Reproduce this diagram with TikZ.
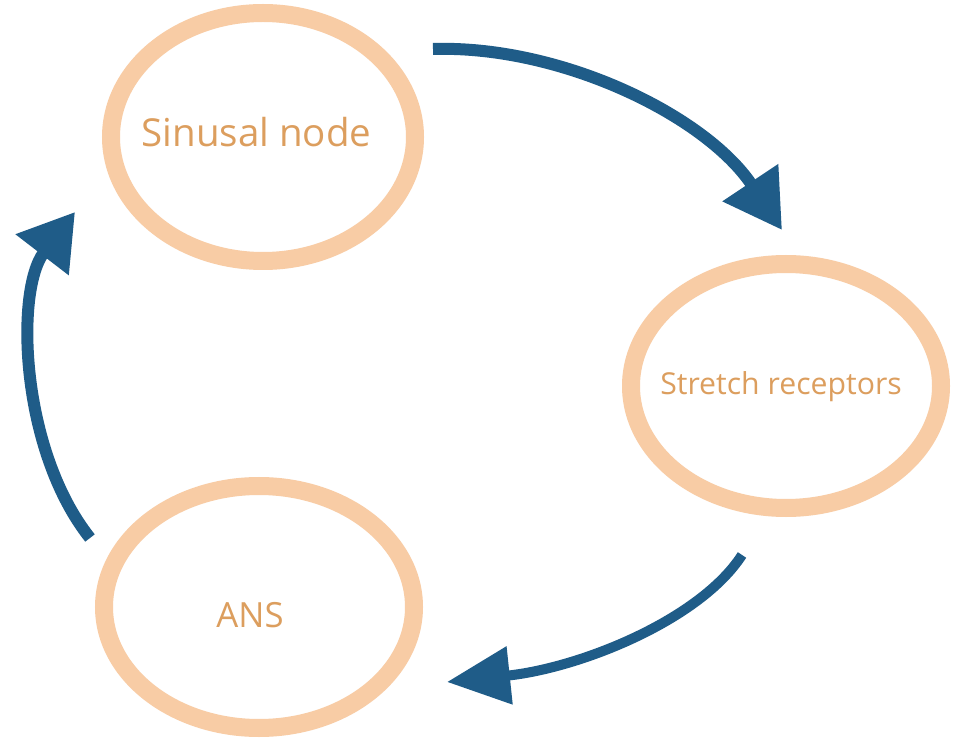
\documentclass[tikz,border=0pt]{standalone}
\usepackage{fontspec}
\setmainfont{Open Sans}
\usetikzlibrary{arrows.meta,shapes.geometric}
\definecolor{ringc}{HTML}{F8CCA5}
\definecolor{textc}{HTML}{DC9E5E}
\definecolor{arrowc}{HTML}{1F5C88}
\tikzset{
  ring/.style={draw=ringc, line width=18pt, ellipse, inner sep=0pt},
  lbl/.style={text=textc, anchor=base, inner sep=0pt},
  flow/.style={draw=arrowc, line width=#1},
}
\begin{document}
\begin{tikzpicture}[x=1pt,y=-1pt]
\useasboundingbox[fill=white] (0,0) rectangle (954,751);
% rings
\node[ring, minimum width=304pt, minimum height=248pt] (sa) at (263,137) {};
\node[ring, minimum width=310pt, minimum height=244pt] (sr) at (786,386) {};
\node[ring, minimum width=310pt, minimum height=242pt] (ans) at (259,607) {};
% labels
\node[lbl, font=\fontsize{38.5}{46}\selectfont] (sa-t) at (256.5,147) {Sinusal node};
\node[lbl, font=\fontsize{30.2}{36}\selectfont] (sr-t) at (781,395) {Stretch receptors};
\node[lbl, font=\fontsize{34.7}{42}\selectfont] (ans-t) at (250,627) {ANS};
% arrow end points
\coordinate (a1s) at (433,49);
\coordinate (a1e) at (782,230);
\coordinate (a2s) at (742,555);
\coordinate (a2e) at (447,682);
\coordinate (a3s) at (90,538);
\coordinate (a3e) at (75,212);
% arrows
\draw[flow=12pt, -{Triangle[length=57pt,width=64pt]}]
  (a1s) .. controls (560,45) and (705,115) .. (a1e);
\draw[flow=10pt, -{Triangle[length=63pt,width=56pt]}]
  (a2s) .. controls (700,620) and (580,668) .. (a2e);
\draw[flow=12pt, -{Triangle[length=54pt,width=64pt]}]
  (a3s) .. controls (20,450) and (15,290) .. (a3e);
\end{tikzpicture}
\end{document}
